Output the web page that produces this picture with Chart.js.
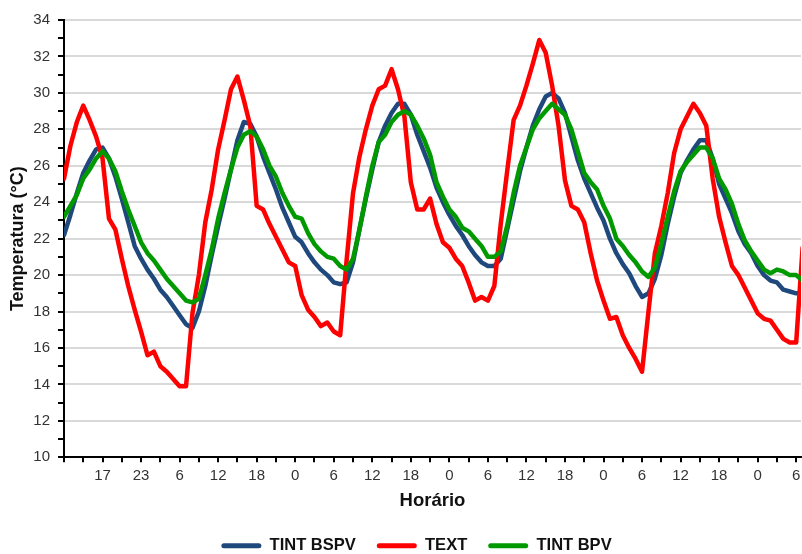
<!DOCTYPE html>
<html>
<head>
<meta charset="utf-8">
<script src="https://cdn.jsdelivr.net/npm/chart.js@4.4.1/dist/chart.umd.min.js"></script>
<style>
  html, body { margin: 0; padding: 0; background: #ffffff; }
  #wrap { width: 802px; height: 554px; }
</style>
</head>
<body>
<div id="wrap"><canvas id="c" width="802" height="554"></canvas></div>
<script>
// Hours elapsed since the start of the record (x values)
const HOURS = Array.from({ length: 116 }, (_, i) => i);

// Tick labels shown every 6 hours (starting at hour 6)
const TICK_LABELS = ['17', '23', '6', '12', '18', '0', '6', '12', '18', '0',
                     '6', '12', '18', '0', '6', '12', '18', '0', '6'];

const SERIES_NAMES = ['TINT BSPV', 'TEXT', 'TINT BPV'];

const TINT_BSPV = [
  22.2, 23.3, 24.5, 25.6, 26.3, 26.9, 27.0, 26.4, 25.4, 24.2,
  22.9, 21.6, 20.9, 20.3, 19.8, 19.2, 18.8, 18.3, 17.8, 17.3,
  17.1, 18.0, 19.4, 21.1, 22.7, 24.2, 25.8, 27.4, 28.4, 28.3,
  27.6, 26.5, 25.6, 24.7, 23.7, 22.9, 22.1, 21.8, 21.2, 20.7,
  20.3, 20.0, 19.6, 19.5, 19.6, 20.7, 22.5, 24.2, 25.8, 27.3,
  28.2, 28.9, 29.4, 29.4, 28.8, 27.7, 26.8, 25.9, 24.8, 24.0,
  23.3, 22.7, 22.2, 21.6, 21.1, 20.7, 20.5, 20.5, 20.9, 22.5,
  24.1, 25.7, 27.0, 28.2, 29.1, 29.8, 30.0, 29.7, 28.9, 27.6,
  26.3, 25.3, 24.5, 23.7, 23.0, 22.0, 21.2, 20.6, 20.1, 19.4,
  18.8, 19.0, 19.8, 21.1, 22.8, 24.3, 25.6, 26.3, 26.9, 27.4,
  27.4, 26.4, 25.0, 24.2, 23.4, 22.4, 21.7, 21.2, 20.5, 20.0,
  19.7, 19.6, 19.2, 19.1, 19.0, 19.0
];

const TEXT = [
  25.3, 27.1, 28.4, 29.3, 28.5, 27.6, 26.4, 23.1, 22.5, 20.9,
  19.4, 18.1, 16.9, 15.6, 15.8, 15.0, 14.7, 14.3, 13.9, 13.9,
  17.9, 20.0, 22.9, 24.7, 26.9, 28.5, 30.2, 30.9, 29.6, 28.2,
  23.8, 23.6, 22.8, 22.1, 21.4, 20.7, 20.5, 18.9, 18.1, 17.7,
  17.2, 17.4, 16.9, 16.7, 20.8, 24.5, 26.5, 28.0, 29.3, 30.2,
  30.4, 31.3, 30.2, 28.7, 25.1, 23.6, 23.6, 24.2, 22.8, 21.8,
  21.5, 20.9, 20.5, 19.6, 18.6, 18.8, 18.6, 19.4, 22.8, 25.7,
  28.5, 29.3, 30.4, 31.6, 32.9, 32.2, 30.4, 28.2, 25.2, 23.8,
  23.6, 22.9, 21.2, 19.7, 18.6, 17.6, 17.7, 16.7, 16.0, 15.4,
  14.7, 18.0, 21.2, 22.7, 24.5, 26.7, 28.0, 28.7, 29.4, 28.9,
  28.2, 25.3, 23.2, 21.8, 20.5, 20.0, 19.3, 18.6, 17.9, 17.6,
  17.5, 17.0, 16.5, 16.3, 16.3, 21.5
];

const TINT_BPV = [
  23.2, 23.8, 24.4, 25.3, 25.8, 26.4, 26.8, 26.4, 25.7, 24.6,
  23.6, 22.7, 21.8, 21.2, 20.8, 20.3, 19.8, 19.4, 19.0, 18.6,
  18.5, 18.7, 20.0, 21.4, 23.1, 24.5, 25.8, 27.0, 27.7, 27.9,
  27.6, 26.9, 26.0, 25.4, 24.5, 23.8, 23.2, 23.1, 22.3, 21.7,
  21.3, 21.0, 20.9, 20.5, 20.3, 20.9, 22.5, 24.3, 26.0, 27.3,
  27.7, 28.4, 28.8, 29.0, 28.8, 28.2, 27.5, 26.6, 25.1, 24.3,
  23.6, 23.2, 22.6, 22.4, 22.0, 21.6, 21.0, 21.0, 21.3, 22.7,
  24.5, 26.0, 27.0, 28.0, 28.6, 29.0, 29.4, 29.1, 28.8, 28.0,
  26.8, 25.6, 25.1, 24.7, 23.8, 23.1, 22.0, 21.6, 21.1, 20.7,
  20.2, 19.9, 20.4, 21.7, 23.2, 24.6, 25.7, 26.2, 26.6, 27.0,
  27.0, 26.4, 25.3, 24.7, 23.9, 22.8, 21.9, 21.3, 20.8, 20.3,
  20.1, 20.3, 20.2, 20.0, 20.0, 19.7
];

const FONT = '"Liberation Sans", Arial, sans-serif';

function toPoints(values) {
  return HOURS.map((h, i) => ({ x: h, y: values[i] }));
}

function lineDataset(label, values, color, order) {
  return {
    label: label,
    data: toPoints(values),
    borderColor: color,
    backgroundColor: color,
    borderWidth: 4.5,
    pointRadius: 0,
    pointHoverRadius: 0,
    tension: 0,
    borderJoinStyle: 'round',
    borderCapStyle: 'round',
    fill: false,
    order: order
  };
}

const PAD_LEFT = 32;

new Chart(document.getElementById('c'), {
  type: 'line',
  data: {
    datasets: [
      lineDataset(SERIES_NAMES[0], TINT_BSPV, '#1F497D', 3),
      lineDataset(SERIES_NAMES[1], TEXT, '#FF0000', 2),
      lineDataset(SERIES_NAMES[2], TINT_BPV, '#009A00', 1)
    ]
  },
  options: {
    responsive: false,
    animation: false,
    devicePixelRatio: 1,
    layout: { padding: { top: 20, right: 1, left: PAD_LEFT, bottom: -10 } },
    plugins: {
      tooltip: { enabled: false },
      legend: {
        position: 'bottom',
        reverse: true,
        labels: {
          boxWidth: 40,
          boxHeight: 5,
          padding: 21,
          color: '#111111',
          font: { family: FONT, size: 16.5, weight: 'bold' },
          generateLabels: (chart) =>
            Chart.defaults.plugins.legend.labels.generateLabels(chart).map(l => ({
              ...l, fillStyle: l.strokeStyle, lineWidth: 0, borderRadius: 2.5
            }))
        }
      }
    },
    scales: {
      x: {
        type: 'linear',
        min: 0,
        max: 114.75,
        afterFit: (scale) => { scale.paddingLeft = 0; scale.paddingRight = 0; },
        border: { display: true, color: '#000000', width: 2 },
        grid: {
          drawOnChartArea: false,
          drawTicks: true,
          tickLength: 5,
          color: '#000000',
          lineWidth: 2
        },
        ticks: {
          stepSize: 3,
          maxTicksLimit: 200,
          includeBounds: false,
          autoSkip: false,
          maxRotation: 0,
          minRotation: 0,
          padding: 5,
          color: '#333333',
          font: { family: FONT, size: 15 },
          callback: (value) => {
            if (value > 0 && value % 6 === 0) {
              const lbl = TICK_LABELS[value / 6 - 1];
              return lbl === undefined ? '' : lbl;
            }
            return '';
          }
        },
        title: {
          display: true,
          text: 'Horário',
          color: '#111111',
          font: { family: FONT, size: 18.5, weight: 'bold' },
          padding: { top: 0, bottom: 4 }
        }
      },
      y: {
        type: 'linear',
        min: 10,
        max: 34,
        afterFit: (scale) => { scale.width = 64 - PAD_LEFT; },
        border: { display: true, color: '#000000', width: 2 },
        grid: {
          drawTicks: true,
          tickLength: 6,
          lineWidth: 2,
          tickWidth: 2,
          tickColor: '#000000',
          color: (ctx) => (ctx.tick && ctx.tick.value % 2 === 0) ? '#d9d9d9' : 'rgba(0,0,0,0)'
        },
        ticks: {
          stepSize: 1,
          autoSkip: false,
          padding: 8,
          color: '#333333',
          font: { family: FONT, size: 15 },
          callback: (value) => (value % 2 === 0 ? String(value) : '')
        },
        title: {
          display: true,
          text: 'Temperatura (°C)',
          color: '#111111',
          font: { family: FONT, size: 18, weight: 'bold' },
          padding: { top: 7 - PAD_LEFT, bottom: 7 }
        }
      }
    }
  }
});
</script>
</body>
</html>
